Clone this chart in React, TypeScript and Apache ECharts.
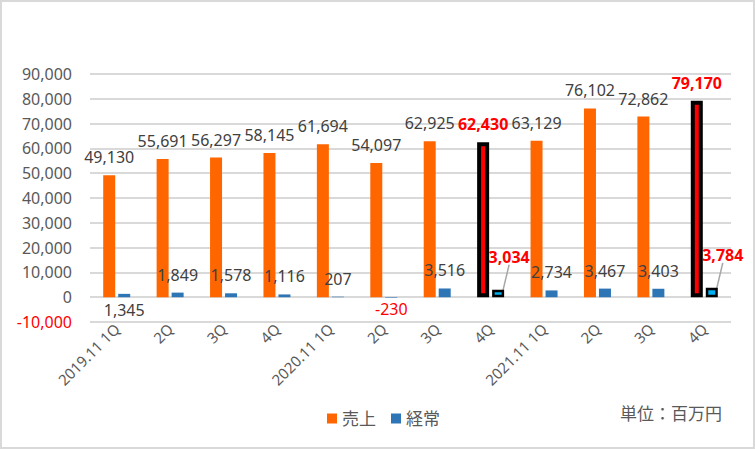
import React, { useEffect, useRef } from "react";
import * as echarts from "echarts";

const categories = [
  "2019.11 1Q", "2Q", "3Q", "4Q",
  "2020.11 1Q", "2Q", "3Q", "4Q",
  "2021.11 1Q", "2Q", "3Q", "4Q",
];
const sales = [49130, 55691, 56297, 58145, 61694, 54097, 62925, 62430, 63129, 76102, 72862, 79170];
const ordinary = [1345, 1849, 1578, 1116, 207, -230, 3516, 3034, 2734, 3467, 3403, 3784];
const highlighted = [7, 11];
const yTicks = { min: -10000, max: 90000, interval: 10000 };
const seriesNames = ["売上", "経常"];
const unitText = "単位：百万円";

const FONT = "'Noto Sans', 'Noto Sans CJK JP', sans-serif";
const ORANGE = "#FF6600";
const BLUE = "#2E75B6";

export default function App() {
  const ref = useRef<HTMLDivElement>(null);
  useEffect(() => {
    if (!ref.current) return;
    const chart = echarts.init(ref.current, null, { renderer: "svg" });

    const salesData = sales.map((v, i) => {
      if (highlighted.includes(i)) {
        return {
          value: v,
          itemStyle: { color: "#FF0000", borderColor: "#000000", borderWidth: 4 },
          label: { color: "#FF0000", fontWeight: "bold" },
        };
      }
      return { value: v };
    });

    const ordData = ordinary.map((v, i) => {
      if (highlighted.includes(i)) {
        return {
          value: v,
          itemStyle: { color: "#00B0F0", borderColor: "#000000", borderWidth: 2.5 },
          label: { color: "#FF0000", fontWeight: "bold" },
          labelLine: { show: true, lineStyle: { color: "#A6A6A6", width: 1.5 } },
        };
      }
      if (i === 0) {
        return { value: v, label: { position: "bottom", distance: 5 } };
      }
      if (v < 0) {
        return { value: v, label: { position: "bottom", distance: 3, offset: [7, 0], color: "#FF0000" } };
      }
      return { value: v };
    });

    const fmt = (p: any) => Number(p.value).toLocaleString("en-US");

    chart.setOption({
      animation: false,
      textStyle: { fontFamily: FONT },
      grid: { left: 90, right: 24, top: 74, bottom: 127 },
      legend: {
        data: seriesNames,
        left: 322,
        top: 405,
        icon: "rect",
        itemWidth: 10,
        itemHeight: 10,
        itemGap: 15,
        textStyle: { fontSize: 17, color: "#595959", fontFamily: FONT },
      },
      graphic: [
        {
          type: "rect",
          shape: { x: 1, y: 1, width: 753, height: 447 },
          style: { fill: "none", stroke: "#D9D9D9", lineWidth: 2 },
          silent: true,
        },
        {
          type: "text",
          left: 620,
          top: 405,
          style: { text: unitText, fontSize: 17, fill: "#595959", fontFamily: FONT },
        },
      ],
      xAxis: {
        type: "category",
        data: categories,
        axisLine: { show: false, onZero: false },
        axisTick: { show: false },
        axisLabel: { rotate: 45, fontSize: 15, color: "#595959", margin: 4, interval: 0, fontFamily: FONT },
      },
      yAxis: {
        type: "value",
        min: yTicks.min,
        max: yTicks.max,
        interval: yTicks.interval,
        axisLine: { show: false },
        axisTick: { show: false },
        splitLine: { lineStyle: { color: "#D9D9D9", width: 2 } },
        axisLabel: {
          fontSize: 16,
          margin: 18,
          fontFamily: FONT,
          formatter: (v: number) => v.toLocaleString("en-US"),
          color: (v: any) => (Number(v) < 0 ? "#FF0000" : "#595959"),
        },
      },
      series: [
        {
          name: seriesNames[0],
          type: "bar",
          data: salesData,
          barWidth: 12,
          barGap: "25%",
          itemStyle: { color: ORANGE },
          label: { show: true, position: "top", distance: 10, fontSize: 16, color: "#404040", fontFamily: FONT, formatter: fmt },
        },
        {
          name: seriesNames[1],
          type: "bar",
          data: ordData,
          barWidth: 12,
          itemStyle: { color: BLUE },
          label: { show: true, position: "top", distance: 10, fontSize: 16, color: "#404040", fontFamily: FONT, formatter: fmt },
          labelLayout: (p: any) =>
            highlighted.includes(p.dataIndex)
              ? { x: p.labelRect.x + 11, y: p.labelRect.y - 15, align: "left", verticalAlign: "top" }
              : {},
        },
      ],
    });
    return () => chart.dispose();
  }, []);

  return (
    <div style={{ position: "absolute", left: 0, top: 0, width: 755, height: 449, background: "#fff" }}>
      <div ref={ref} style={{ width: 755, height: 449 }} />
    </div>
  );
}
